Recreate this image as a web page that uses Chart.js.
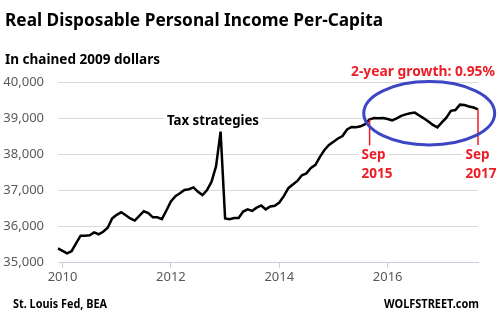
<!DOCTYPE html>
<html>
<head>
<meta charset="utf-8">
<script src="https://cdn.jsdelivr.net/npm/chart.js@4.4.1/dist/chart.umd.min.js"></script>
<style>
  html, body { margin: 0; padding: 0; background: #fff; }
</style>
</head>
<body>
<canvas id="chart" width="499" height="323"></canvas>
<script>
// monthly values, Dec 2009 .. Sep 2017
const firstMonth = { year: 2009, month: 12 };
const income = [
  35400, 35330, 35261, 35320, 35540, 35750, 35750, 35760, 35840, 35790,
  35860, 35970, 36230, 36330, 36400, 36320, 36230, 36170, 36300, 36430,
  36380, 36260, 36260, 36210, 36450, 36700, 36850, 36930, 37020, 37040,
  37090, 36970, 36880, 37020, 37250, 37680, 38640, 36230, 36210, 36240,
  36240, 36420, 36480, 36440, 36530, 36590, 36480, 36560, 36580, 36670,
  36850, 37070, 37170, 37270, 37430, 37480, 37630, 37720, 37940, 38130,
  38270, 38360, 38450, 38520, 38700, 38770, 38760, 38790, 38850, 38980,
  39020, 39010, 39020, 38990, 38950, 39010, 39080, 39120, 39150, 39170,
  39090, 39010, 38920, 38830, 38760, 38900, 39030, 39220, 39240, 39390,
  39380, 39340, 39310, 39260
];
const yearTicks = [2010, 2012, 2014, 2016];
const yMin = 35000, yMax = 40000, yStep = 1000;
const markFrom = { year: 2015, month: 9, label: ["Sep", "2015"] };
const markTo = { year: 2017, month: 9, label: ["Sep", "2017"] };

const red = "#ee1c25";
const blue = "#3c46c4";
const axisColor = "#c6cee0";
const gridColor = "#d9d9d9";
const tickColor = "#595959";
const font = "'Noto Sans', 'Open Sans', sans-serif";

function monthIndex(y, m) {
  return (y - firstMonth.year) * 12 + (m - firstMonth.month);
}

const points = income.map((v, i) => ({ x: i, y: v }));

function text(ctx, str, x, y, size, color, align, maxW, box) {
  ctx.font = "bold " + size + "px " + font;
  ctx.textAlign = align || "left";
  ctx.textBaseline = "middle";
  if (box) {
    const w = Math.min(ctx.measureText(str).width, maxW || 999);
    const left = align === "right" ? x - w : x;
    ctx.fillStyle = "#fff";
    ctx.fillRect(left - 3, y - size * 0.6, w + 6, size * 1.2);
  }
  ctx.fillStyle = color;
  if (maxW) ctx.fillText(str, x, y, maxW);
  else ctx.fillText(str, x, y);
}

const notes = {
  id: "notes",
  afterDraw(chart) {
    const ctx = chart.ctx;
    const xs = chart.scales.x, ys = chart.scales.y;
    ctx.save();

    // red markers at the start and end of the 2-year window
    [markFrom, markTo].forEach((m, k) => {
      const i = monthIndex(m.year, m.month);
      const px = xs.getPixelForValue(i);
      const py = ys.getPixelForValue(income[i]);
      ctx.strokeStyle = red;
      ctx.lineWidth = 1.5;
      ctx.beginPath();
      ctx.moveTo(px, py);
      ctx.lineTo(px, k === 0 ? 148 : 145);
      ctx.stroke();
      const lx = k === 0 ? px - 8 : px - 12.5;
      text(ctx, m.label[0], lx, 154.5, 15, red, "left", 24, true);
      text(ctx, m.label[1], lx, 173.5, 15, red, "left", 31, true);
    });

    // blue ellipse round the last two years
    const cx = xs.getPixelForValue(82.2);
    const cy = ys.getPixelForValue(39150);
    const rx = xs.getPixelForValue(82.2 + 14.5) - cx;
    const ry = cy - ys.getPixelForValue(39150 + 880);
    ctx.strokeStyle = blue;
    ctx.lineWidth = 3;
    ctx.beginPath();
    ctx.ellipse(cx, cy, rx, ry, 0, 0, Math.PI * 2);
    ctx.stroke();

    text(ctx, "Real Disposable Personal Income Per-Capita", 5, 21, 18, "#000", "left", 378);
    text(ctx, "In chained 2009 dollars", 5, 60, 14, "#000", "left", 155);
    text(ctx, "2-year growth: 0.95%", 351, 71.5, 15, red, "left", 144);
    text(ctx, "Tax strategies", 167, 121, 14, "#000", "left", 92, true);
    text(ctx, "St. Louis Fed, BEA", 13, 304, 13, "#000", "left", 94);
    text(ctx, "WOLFSTREET.com", 479, 304, 13, "#000", "right", 95);
    ctx.restore();
  }
};

new Chart(document.getElementById("chart").getContext("2d"), {
  type: "line",
  data: {
    datasets: [{
      data: points,
      borderColor: "#000",
      borderWidth: 2.5,
      pointRadius: 0,
      tension: 0,
      fill: false,
      clip: false
    }]
  },
  options: {
    responsive: false,
    animation: false,
    devicePixelRatio: 1,
    layout: { padding: { top: 82.7, right: 21, left: 0, bottom: 0 } },
    plugins: { legend: { display: false }, tooltip: { enabled: false }, title: { display: false } },
    scales: {
      x: {
        type: "linear",
        min: 0,
        max: income.length - 1,
        afterBuildTicks: s => { s.ticks = yearTicks.map(y => ({ value: monthIndex(y, 1) })); },
        afterFit: s => { s.height = 60.3; },
        ticks: {
          callback: (v, i) => String(yearTicks[i]),
          color: tickColor,
          font: { family: font, size: 13 },
          padding: 2,
          maxRotation: 0,
          autoSkip: false
        },
        grid: { drawOnChartArea: false, drawTicks: true, tickLength: 5, color: axisColor },
        border: { color: axisColor, width: 1 }
      },
      y: {
        min: yMin,
        max: yMax,
        afterFit: s => { s.width = 58; },
        ticks: {
          stepSize: yStep,
          color: tickColor,
          font: { family: font, size: 13 },
          padding: 14,
          callback: v => v.toLocaleString("en-US")
        },
        grid: { color: gridColor, drawTicks: false },
        border: { display: false }
      }
    }
  },
  plugins: [notes]
});
</script>
</body>
</html>
